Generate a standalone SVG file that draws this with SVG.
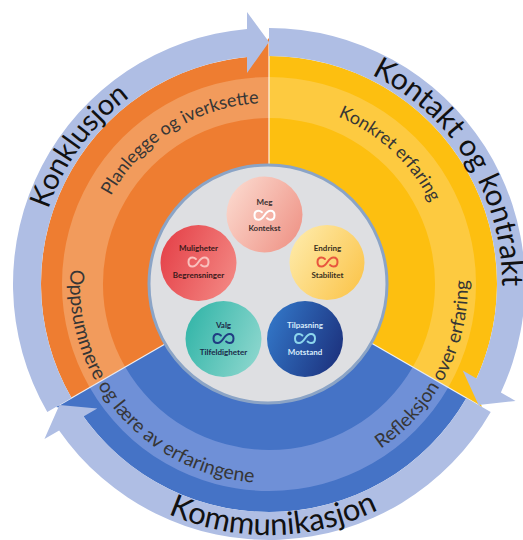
<svg xmlns="http://www.w3.org/2000/svg" xmlns:xlink="http://www.w3.org/1999/xlink" width="523" height="540" viewBox="0 0 523 540">
  <style>
    .ring { fill: #afbee4; }
    .ringtxt { font-family: "Lato", "Liberation Sans", sans-serif; fill: #111111; }
    .bandtxt { font-family: "Lato", "Liberation Sans", sans-serif; fill: #363636; }
    .sep { stroke: #ffffff; stroke-opacity: 0.8; stroke-width: 1.3; }
    .ctxt { font-family: "Lato", "Liberation Sans", sans-serif; font-weight: bold; font-size: 8px; text-anchor: middle; }
    .inf { fill: none; stroke-width: 2; stroke-linecap: round; stroke-linejoin: round; }
  </style>
  <defs>
    <!-- one circular arrow of the outer ring, arrowhead at 12 o'clock -->
    <path id="ringArrow" d="M -197.5,114 L -221.7,128 A 256 256 0 0 1 -22,-255.05 L -22,-272 L 0,-242 L -22,-211 L -22,-226.94 A 228 228 0 0 0 -197.5,114 Z"/>
    <!-- one 120 degree sector of the inner wheel -->
    <path id="wedge" d="M 0,0 L -197.45,114 A 228 228 0 0 1 0,-228 Z M -16,-226 L 0,-246 L 0,-226 Z"/>
    <path id="band" d="M -179.3,103.5 A 207 207 0 0 1 0,-207 L 0,-166 A 166 166 0 0 0 -143.8,83 Z"/>
    <!-- text baselines -->
    <path id="cw233" d="M 269,517 A 233 233 0 1 1 269,51 A 233 233 0 1 1 269,517"/>
    <path id="cw181" d="M 269,465 A 181 181 0 1 1 269,103 A 181 181 0 1 1 269,465"/>
    <path id="ccw199" d="M 269,85 A 199 199 0 1 0 269,483 A 199 199 0 1 0 269,85"/>
    <path id="ccw251" d="M 269,33 A 251 251 0 1 0 269,535 A 251 251 0 1 0 269,33"/>
    <!-- infinity icon, drawn with a break where the strokes cross -->
    <path id="inf" d="M -2.6,-3 C -3.6,-4 -4.8,-4.5 -6,-4.5 C -8.5,-4.5 -10,-2.5 -10,0 C -10,2.5 -8.5,4.5 -6,4.5 C -4,4.5 -2,3 0,0 C 2,-3 4,-4.5 6,-4.5 C 8.5,-4.5 10,-2.5 10,0 C 10,2.5 8.5,4.5 6,4.5 C 4.8,4.5 3.6,4 2.6,3"/>
    <linearGradient id="gMeg" x1="0" y1="0.2" x2="1" y2="0.8">
      <stop offset="0" stop-color="#fbd8cd"/>
      <stop offset="1" stop-color="#ef9487"/>
    </linearGradient>
    <linearGradient id="gEnd" x1="0" y1="0.2" x2="1" y2="0.8">
      <stop offset="0" stop-color="#feeaa8"/>
      <stop offset="1" stop-color="#fbc54c"/>
    </linearGradient>
    <linearGradient id="gMul" x1="0" y1="0.3" x2="1" y2="0.7">
      <stop offset="0" stop-color="#e5434a"/>
      <stop offset="1" stop-color="#f38682"/>
    </linearGradient>
    <linearGradient id="gVal" x1="0" y1="0.3" x2="1" y2="0.7">
      <stop offset="0" stop-color="#35b6a9"/>
      <stop offset="1" stop-color="#8bd6cd"/>
    </linearGradient>
    <linearGradient id="gTil" x1="0" y1="0.3" x2="1" y2="0.7">
      <stop offset="0" stop-color="#3275c6"/>
      <stop offset="1" stop-color="#1d337f"/>
    </linearGradient>
  </defs>

  <rect width="523" height="540" fill="#ffffff"/>

  <!-- inner wheel: three coloured sectors -->
  <g id="sectors" transform="translate(269,284)">
    <g id="sector-orange">
      <use xlink:href="#wedge" fill="#ee7d31"/>
      <use xlink:href="#band" fill="#f29b5c"/>
    </g>
    <g id="sector-yellow" transform="rotate(120)">
      <use xlink:href="#wedge" fill="#fdbf10"/>
      <use xlink:href="#band" fill="#fdca40"/>
    </g>
    <g id="sector-blue" transform="rotate(240)">
      <use xlink:href="#wedge" fill="#4573c6"/>
      <use xlink:href="#band" fill="#6f90d7"/>
    </g>
    <g id="separators">
      <line class="sep" x1="0" y1="-119" x2="0" y2="-242"/>
      <line class="sep" x1="0" y1="-119" x2="0" y2="-242" transform="rotate(120)"/>
      <line class="sep" x1="0" y1="-119" x2="0" y2="-242" transform="rotate(240)"/>
    </g>
  </g>

  <!-- outer ring: three circular arrows -->
  <g id="connectors" transform="translate(269,284)">
    <use id="arrow-konklusjon" class="ring" xlink:href="#ringArrow"/>
    <use id="arrow-kontakt" class="ring" xlink:href="#ringArrow" transform="rotate(120)"/>
    <use id="arrow-kommunikasjon" class="ring" xlink:href="#ringArrow" transform="rotate(240)"/>
  </g>

  <!-- ring labels -->
  <g id="ring-labels">
    <text class="ringtxt" font-size="29" text-anchor="middle"><textPath xlink:href="#cw233" startOffset="35%">Konklusjon</textPath></text>
    <text class="ringtxt" font-size="30" text-anchor="middle"><textPath xlink:href="#cw233" startOffset="66.2%">Kontakt og kontrakt</textPath></text>
    <text class="ringtxt" font-size="31" text-anchor="middle"><textPath xlink:href="#ccw251" startOffset="50.3%">Kommunikasjon</textPath></text>
  </g>

  <!-- sector labels -->
  <g id="sector-labels">
    <text class="bandtxt" font-size="18" text-anchor="middle"><textPath xlink:href="#cw181" startOffset="41.1%">Planlegge og iverksette</textPath></text>
    <text class="bandtxt" font-size="18" text-anchor="middle"><textPath xlink:href="#cw181" startOffset="61.9%">Konkret erfaring</textPath></text>
    <text class="bandtxt" font-size="19.5" text-anchor="middle"><textPath xlink:href="#ccw199" startOffset="36.3%">Oppsummere og lære av erfaringene</textPath></text>
    <text class="bandtxt" font-size="19" text-anchor="middle"><textPath xlink:href="#ccw199" startOffset="67.4%">Refleksjon over erfaring</textPath></text>
  </g>

  <!-- centre disc -->
  <g id="centre">
    <circle cx="268" cy="284" r="119" fill="#dedfe2" stroke="#8ba4c6" stroke-width="3"/>
  </g>

  <g id="node-meg">
    <circle cx="264.5" cy="214.5" r="38" fill="url(#gMeg)"/>
    <text class="ctxt" x="264.5" y="204.5" fill="#3a2f2f">Meg</text>
    <use xlink:href="#inf" class="inf" stroke="#ffffff" transform="translate(264.5,215.3)"/>
    <text class="ctxt" x="264.5" y="230.5" fill="#3a2f2f">Kontekst</text>
  </g>

  <g id="node-endring">
    <circle cx="327" cy="262.5" r="37.5" fill="url(#gEnd)"/>
    <text class="ctxt" x="327.5" y="251" fill="#3a3020">Endring</text>
    <use xlink:href="#inf" class="inf" stroke="#e8553e" transform="translate(327.5,262)"/>
    <text class="ctxt" x="327.5" y="278" fill="#3a3020">Stabilitet</text>
  </g>

  <g id="node-muligheter">
    <circle cx="198.5" cy="263" r="38" fill="url(#gMul)"/>
    <text class="ctxt" x="198.5" y="251" fill="#3b1a1a">Muligheter</text>
    <use xlink:href="#inf" class="inf" stroke="#f9c1bd" transform="translate(198.5,262)"/>
    <text class="ctxt" x="198.5" y="278" fill="#3b1a1a">Begrensninger</text>
  </g>

  <g id="node-valg">
    <circle cx="223.5" cy="339" r="38" fill="url(#gVal)"/>
    <text class="ctxt" x="223.5" y="328" fill="#1b2a48">Valg</text>
    <use xlink:href="#inf" class="inf" stroke="#1f3c82" transform="translate(223.5,338.5)"/>
    <text class="ctxt" x="223.5" y="355" fill="#1b2a48">Tilfeldigheter</text>
  </g>

  <g id="node-tilpasning">
    <circle cx="305" cy="339" r="38" fill="url(#gTil)"/>
    <text class="ctxt" x="305" y="328" fill="#d8ecfa">Tilpasning</text>
    <use xlink:href="#inf" class="inf" stroke="#8dd6ec" transform="translate(305,338.5)"/>
    <text class="ctxt" x="305" y="355" fill="#d8ecfa">Motstand</text>
  </g>
</svg>
